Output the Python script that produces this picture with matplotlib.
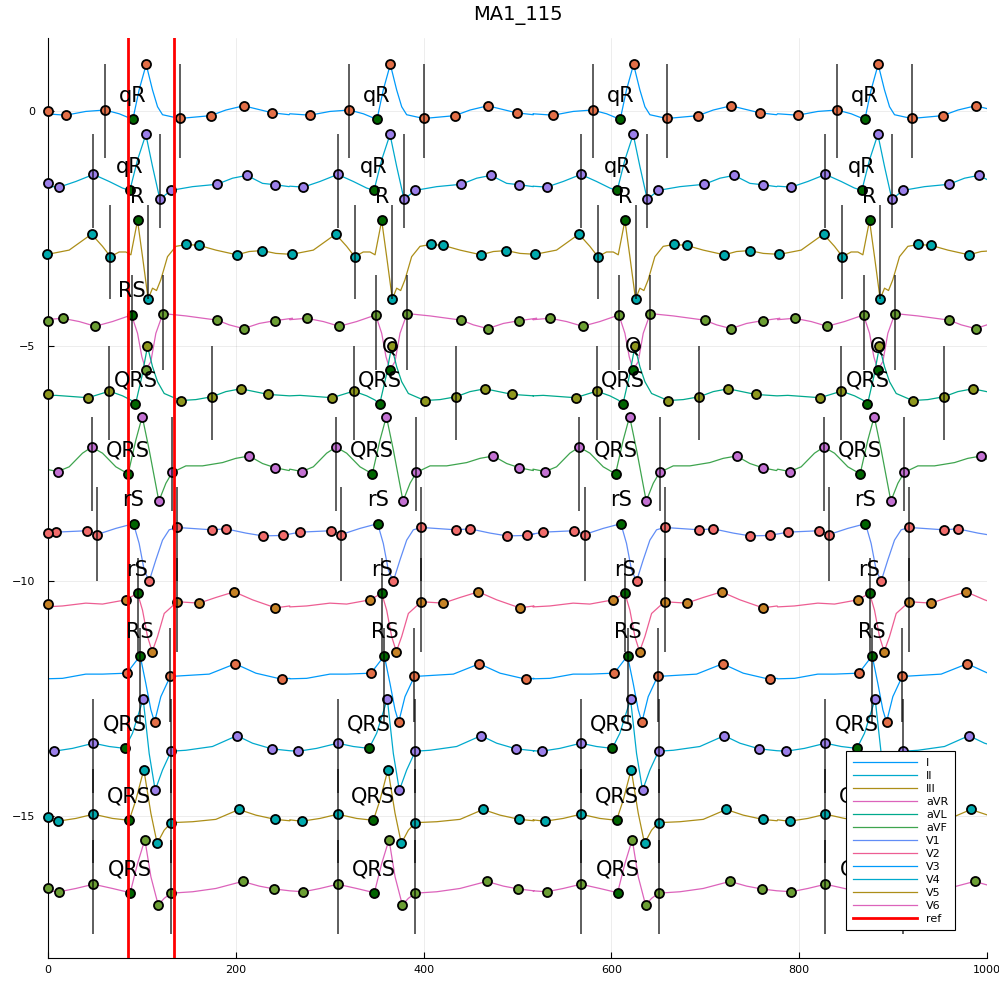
import matplotlib
matplotlib.use("Agg")
import matplotlib.pyplot as plt
import numpy as np

# lead names and vertical offsets
leads = ["I", "II", "III", "aVR", "aVL", "aVF", "V1", "V2", "V3", "V4", "V5", "V6"]
baselines = [0.0, -1.5, -3.0, -4.5, -6.0, -7.5, -9.0, -10.5, -12.0, -13.5, -15.0, -16.5]

# R peak position of each beat (samples) and the reference window
beat_r = [104.5, 364.5, 623.5, 884.0]
ref_x = [85.2, 134.2]

# one beat per lead: offset from R peak / amplitude from baseline
I_dx = [-107, -85.5, -64.2, -43.6, -28.6, -14.1, -7.4, 0.1, 6.8, 12.2, 17.5, 35.6, 68.6, 85.0, 103.8, 134.6, 152.4]
I_dy = [-0.06, -0.09, -0.01, 0.02, -0.06, -0.18, 0.45, 0.99, 0.45, 0.09, -0.08, -0.16, -0.10, 0.02, 0.11, -0.04, -0.08]
II_dx = [-107, -92.5, -74.8, -56.0, -39.3, -25.1, -17.3, -9.1, -0.25, 6.85, 14.7, 26.4, 49.5, 75.4, 92.1, 107.3, 124.0, 137.5, 152.4]
II_dy = [-0.10, -0.12, 0.00, 0.15, 0.00, -0.14, -0.19, 0.46, 1.00, 0.32, -0.38, -0.19, -0.11, -0.06, 0.07, 0.13, -0.04, -0.07, -0.11]
III_dx = [-105, -81.9, -58.1, -46.4, -37.9, -28.7, -21.5, -16.2, -9.1, -3.8, 2.2, 6.85, 11.1, 15.7, 22.8, 31.7, 43.0, 56.5, 74.3, 96.7, 109.8, 123.6, 138.2, 154.9]
III_dy = [-0.05, 0.04, 0.38, 0.12, -0.10, 0.00, 0.00, -0.06, 0.67, -0.10, -1.00, -0.77, -0.82, -0.59, -0.10, 0.12, 0.16, 0.14, 0.04, -0.06, 0.01, 0.03, -0.03, -0.05]
aVR_dx = [-107, -89.0, -71.2, -54.2, -35.8, -15.5, -9.1, -4.5, -0.25, 5.1, 10.4, 17.9, 42.4, 75.7, 88.5, 103.8, 120.5, 137.5, 155.9]
aVR_dy = [0.06, 0.09, 0.02, -0.08, 0.02, 0.16, -0.23, -0.73, -1.01, -0.83, -0.23, 0.19, 0.14, 0.05, -0.05, -0.13, -0.02, 0.04, 0.09]
aVL_dx = [-107, -96.1, -61.7, -39.0, -25.1, -16.2, -11.3, -4.5, 1.5, 6.85, 12.2, 19.3, 36.7, 53.0, 70.0, 85.0, 100.9, 130.0, 152.4]
aVL_dy = [-0.06, -0.05, -0.10, 0.04, -0.06, -0.15, -0.24, 0.35, 0.99, 0.56, 0.24, -0.01, -0.16, -0.14, -0.08, 0.03, 0.09, -0.03, -0.06]
aVF_dx = [-107, -94.0, -81.9, -67.7, -57.8, -46.4, -32.2, -19.1, -10.9, -4.1, 3.3, 13.6, 21.1, 27.8, 42.4, 60.1, 81.4, 95.6, 109.8, 124.0, 137.5, 152.4]
aVF_dy = [-0.12, -0.17, -0.07, 0.22, 0.35, 0.22, -0.07, -0.22, 0.50, 1.00, 0.29, -0.80, -0.42, -0.19, -0.05, -0.05, 0.02, 0.11, 0.16, 0.00, -0.09, -0.15]
V1_dx = [-107, -96.1, -63.1, -52.1, -32.2, -13.4, -7.4, -2.0, 3.3, 10.4, 17.5, 24.6, 33.1, 69.7, 85.0, 106.3, 124.4, 145.3, 153.0]
V1_dy = [0.00, 0.04, 0.07, -0.01, 0.12, 0.22, -0.20, -0.77, -1.00, -0.55, -0.13, 0.09, 0.14, 0.09, 0.11, 0.02, -0.04, -0.03, 0.00]
V2_dx = [-107, -89.0, -64.2, -46.4, -21.6, -9.1, -3.8, 1.5, 6.5, 12.2, 19.3, 33.1, 56.5, 74.3, 93.8, 113.4, 137.8, 153.0]
V2_dy = [-0.05, -0.03, 0.03, 0.01, 0.10, 0.24, -0.12, -0.68, -1.00, -0.68, -0.19, 0.06, 0.03, 0.15, 0.27, 0.10, -0.07, -0.03]
V3_dx = [-107, -89.0, -64.2, -46.4, -20.5, -6.3, -0.25, 5.1, 9.0, 15.7, 25.7, 42.4, 67.2, 94.9, 116.9, 144.9, 153.0]
V3_dy = [-0.08, -0.07, 0.02, 0.02, 0.04, 0.41, -0.18, -0.74, -1.00, -0.46, -0.03, -0.01, 0.02, 0.24, 0.04, -0.09, -0.07]
V4_dx = [-107, -97.9, -78.4, -56.0, -39.3, -22.6, -14.5, -3.1, 3.3, 9.7, 17.5, 26.7, 42.4, 70.7, 96.7, 113.4, 133.9, 153.0]
V4_dy = [-0.11, -0.12, -0.06, 0.05, -0.02, -0.06, 0.26, 0.99, -0.17, -0.95, -0.52, -0.12, -0.10, -0.02, 0.21, 0.05, -0.07, -0.11]
V5_dx = [-107, -94.3, -74.8, -56.0, -35.8, -18.0, -10.9, -2.4, 5.1, 11.8, 19.3, 26.7, 49.5, 74.3, 98.8, 116.9, 137.5, 153.0]
V5_dy = [-0.08, -0.11, -0.05, 0.04, -0.05, -0.09, 0.34, 0.99, 0.06, -0.58, -0.30, -0.14, -0.12, -0.07, 0.14, 0.02, -0.07, -0.10]
V6_dx = [-107, -92.5, -74.8, -56.0, -35.8, -16.9, -9.1, -1.3, 5.1, 12.9, 19.3, 26.7, 49.5, 74.3, 102.7, 120.5, 136.4, 153.0]
V6_dy = [-0.09, -0.11, -0.04, 0.05, -0.04, -0.13, 0.49, 1.00, 0.21, -0.39, -0.25, -0.14, -0.11, -0.04, 0.11, 0.01, -0.05, -0.09]

# fiducial points (offsets that carry a marker), onset point, segment lines
I_marks = [-85.5, -43.6, -14.1, 0.1, 35.6, 68.6, 103.8, 134.6]
II_marks = [-92.5, -56.0, -17.3, -0.25, 14.7, 26.4, 75.4, 107.3, 137.5]
III_marks = [-105, -58.1, -37.9, -9.1, 2.2, 43.0, 56.5, 96.7, 123.6]
aVR_marks = [-89.0, -54.2, -15.5, -0.25, 17.9, 75.7, 103.8, 137.5]
aVL_marks = [-61.7, -39.0, -11.3, 1.5, 36.7, 70.0, 100.9, 130.0]
aVF_marks = [-94.0, -57.8, -19.1, -4.1, 13.6, 27.8, 109.8, 137.5]
V1_marks = [-96.1, -63.1, -52.1, -13.4, 3.3, 33.1, 69.7, 85.0, 124.4, 145.3]
V2_marks = [-21.6, -9.1, 6.5, 33.1, 56.5, 93.8, 137.8]
V3_marks = [-20.5, -6.3, 9.0, 25.7, 94.9, 144.9]
V4_marks = [-97.9, -56.0, -22.6, -3.1, 9.7, 26.7, 96.7, 133.9]
V5_marks = [-94.3, -56.0, -18.0, -2.4, 11.8, 26.7, 98.8, 137.5]
V6_marks = [-92.5, -56.0, -16.9, -1.3, 12.9, 26.7, 102.7, 136.4]

onset_dx = [-14.1, -17.3, -9.1, -0.25, -11.3, -19.1, -13.4, -9.1, -6.3, -22.6, -18.0, -16.9]
onset_dx_first = [-14.1, -17.3, -9.1, -15.5, -11.3, -19.1, -13.4, -9.1, -6.3, -22.6, -18.0, -16.9]
seg_dx = [[-43.6, 35.6], [-56.0, 14.7], [-37.9, 2.2], [-15.5, 17.9], [-39.0, 70.0], [-57.8, 27.8],
          [-52.1, 33.1], [-9.1, 33.1], [-6.3, 25.7], [-56.0, 26.7], [-56.0, 26.7], [-56.0, 26.7]]
qrs_labels = ["qR", "qR", "R", "Q", "QRS", "QRS", "rS", "rS", "RS", "QRS", "QRS", "QRS"]
qrs_labels_first = ["qR", "qR", "R", "RS", "QRS", "QRS", "rS", "rS", "RS", "QRS", "QRS", "QRS"]

# first sample carries a marker on some leads
start_leads = ["I", "II", "aVR", "aVL", "V1", "V2", "V5", "V6"]
start_y = [0.0, -1.53, -4.47, -6.02, -8.98, -10.49, -15.02, -16.52]

wave_dx = [I_dx, II_dx, III_dx, aVR_dx, aVL_dx, aVF_dx, V1_dx, V2_dx, V3_dx, V4_dx, V5_dx, V6_dx]
wave_dy = [I_dy, II_dy, III_dy, aVR_dy, aVL_dy, aVF_dy, V1_dy, V2_dy, V3_dy, V4_dy, V5_dy, V6_dy]
wave_marks = [I_marks, II_marks, III_marks, aVR_marks, aVL_marks, aVF_marks,
              V1_marks, V2_marks, V3_marks, V4_marks, V5_marks, V6_marks]

line_colors = ["#009AFA", "#00A9CD", "#AC8E18", "#DC63BB", "#00A98D", "#3EA44E",
               "#618DF6", "#ED5E93", "#009AFA", "#00A9CD", "#AC8E18", "#DC63BB"]
mark_colors = ["#E36F47", "#9B7FE9", "#00A9AD", "#6B9E33", "#8E971D", "#C371D2",
               "#F16C6B", "#C68225", "#E36F47", "#9B7FE9", "#00A9AD", "#6B9E33"]
onset_color = "#006400"

fig = plt.figure(figsize=(9.99, 9.99), dpi=100)
ax = fig.add_axes([0.048, 0.041, 0.94, 0.921])

handles = []
for i, name in enumerate(leads):
    dx = np.asarray(wave_dx[i], dtype=float)
    dy = np.asarray(wave_dy[i], dtype=float)
    base = baselines[i]
    xs = np.concatenate([r + dx for r in beat_r])
    ys = np.tile(dy, len(beat_r)) + base
    h, = ax.plot(xs, ys, color=line_colors[i], lw=0.9, zorder=2, label=name)
    handles.append(h)

    px, py, gx, gy = [], [], [], []
    for k, r in enumerate(beat_r):
        g = onset_dx_first[i] if k == 0 else onset_dx[i]
        for m in wave_marks[i]:
            x = r + m
            if x < -3 or x > 1000:
                continue
            y = base + dy[list(dx).index(m)]
            if m == g:
                gx.append(x)
                gy.append(y)
            else:
                px.append(x)
                py.append(y)
    if name in start_leads:
        px.append(0.0)
        py.append(start_y[start_leads.index(name)])
    ax.plot(px, py, ls="none", marker="o", ms=6.5, mfc=mark_colors[i], mec="black",
            mew=1.3, zorder=3, clip_on=False)
    ax.plot(gx, gy, ls="none", marker="o", ms=6.5, mfc=onset_color, mec="black",
            mew=1.3, zorder=3, clip_on=False)

    for k, r in enumerate(beat_r):
        ax.vlines([r + s for s in seg_dx[i]], base - 1, base + 1, color="black",
                  lw=1.1, alpha=0.8, zorder=4)

    for k in range(len(gx)):
        lab = qrs_labels_first[i] if k == 0 else qrs_labels[i]
        ax.text(gx[k], gy[k] + 0.5, lab, fontsize=15, ha="center", va="center", zorder=7)

for x in ref_x:
    ref_h = ax.axvline(x, color="red", lw=2.0, zorder=5, label="ref")
handles.append(ref_h)

ax.set_xlim(0, 1000)
ax.set_ylim(-18.02, 1.553)
ax.set_xticks(range(0, 1001, 200))
ax.set_yticks([0, -5, -10, -15])
ax.spines["top"].set_visible(False)
ax.spines["right"].set_visible(False)
ax.grid(True, color="black", alpha=0.1, lw=0.5)
ax.tick_params(direction="in", length=4, labelsize=8)
ax.tick_params(axis="y", pad=9)
ax.tick_params(axis="x", pad=5)
ax.set_title("MA1_115", fontsize=14, pad=13)

leg = ax.legend(handles=handles, loc="lower right", bbox_to_anchor=(0.966, 0.030),
                borderaxespad=0, fontsize=8, fancybox=False, edgecolor="black",
                framealpha=1, handlelength=5.8, labelspacing=0.27, borderpad=0.6,
                handletextpad=0.8)
leg.get_frame().set_linewidth(0.8)
leg.set_zorder(20)

fig.savefig("out.png", dpi=100)
